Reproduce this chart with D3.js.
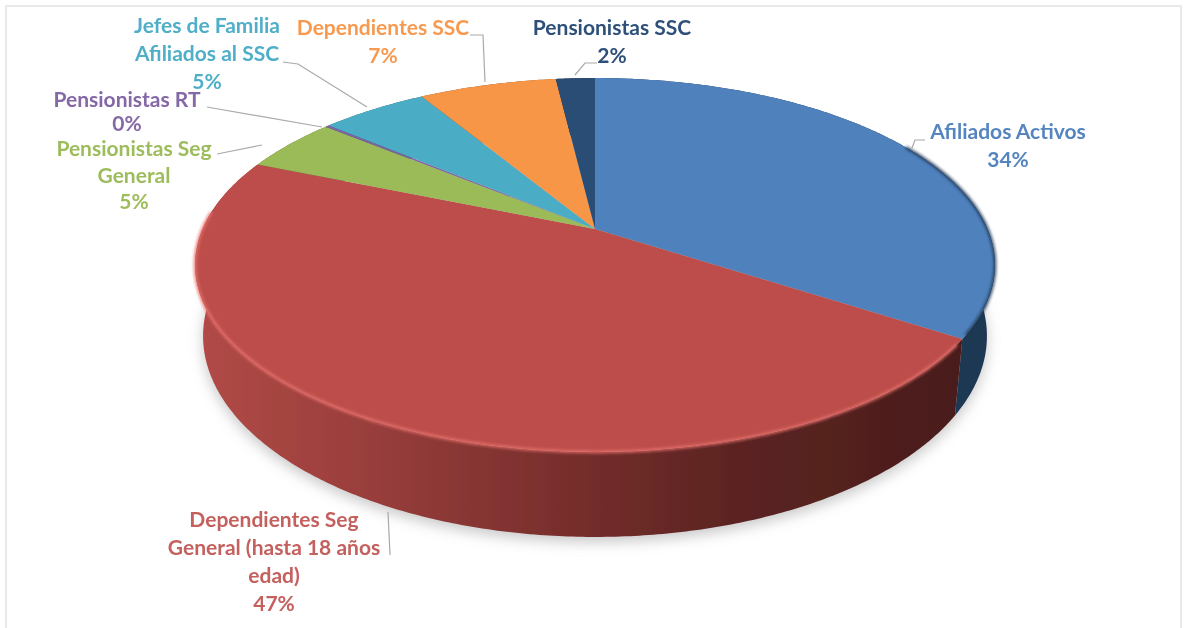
<!DOCTYPE html>
<html>
<head>
<meta charset="utf-8">
<script src="https://cdn.jsdelivr.net/npm/d3@7"></script>
<style>
	html, body { margin: 0; padding: 0; background: #fff; overflow: hidden; }
	svg { display: block; }
	text { font-family: Lato, "Noto Sans", sans-serif; font-weight: 700; font-size: 21px; text-anchor: middle; }
</style>
</head>
<body>
<div id="container"></div>
<script>
// valores
var categories = ["Afiliados Activos", "Dependientes Seg General (hasta 18 años edad)", "Pensionistas Seg General", "Pensionistas RT", "Jefes de Familia Afiliados al SSC", "Dependientes SSC", "Pensionistas SSC"];
var values = [34.2, 47.1, 4.7, 0.2, 5.2, 6.7, 1.9];
var percentLabels = ["34%", "47%", "5%", "0%", "5%", "7%", "2%"];

var labelLines = [
	["Afiliados Activos"],
	["Dependientes Seg", "General (hasta 18 años", "edad)"],
	["Pensionistas Seg", "General"],
	["Pensionistas RT"],
	["Jefes de Familia", "Afiliados al SSC"],
	["Dependientes SSC"],
	["Pensionistas SSC"]
];

var sliceColors = ["#4f81bd", "#bc4e4b", "#9bbb59", "#8064a2", "#4bacc6", "#f79646", "#2c4d75"];
var labelColors = ["#5585c0", "#c4605d", "#9dbd5c", "#8567a6", "#4fafc8", "#f79a50", "#2f5079"];

// posicion de cada etiqueta: centro x, linea base de la primera linea, interlineado
var labelPos = [
	{x: 1008, y: 139, dy: 28},
	{x: 274, y: 527, dy: 28},
	{x: 134, y: 156, dy: 26.5},
	{x: 127, y: 107, dy: 24},
	{x: 207, y: 33, dy: 28},
	{x: 383, y: 35, dy: 28},
	{x: 612, y: 35, dy: 28}
];

var leaders = [
	[[912, 148], [915, 140], [925, 140]],
	[[388, 512], [390, 555]],
	[[217, 154], [262, 145]],
	[[207, 107], [322, 127]],
	[[283, 62], [298, 64], [367, 107]],
	[[470, 35], [483, 35], [485, 82]],
	[[597, 63], [585, 63], [575, 75]]
];

var width = 1185, height = 628;
var cx = 595;
var k = 0.1925;
var topDisc = {a: 392.5, b: 180, y: 229};
var bottomDisc = {a: 384.6, b: 193.5, y: 297.3};

// circulo en perspectiva: el vertice no cae en el centro de la elipse
function project(disc, theta) {
	var u = Math.sin(theta), v = Math.cos(theta), w = 1 + k * v;
	return [cx + disc.a * u / w, disc.y - disc.b * v / w];
}

function arcPoints(disc, a0, a1) {
	var n = Math.max(2, Math.ceil((a1 - a0) / 0.01));
	return d3.range(n + 1).map(function(i) {
		return project(disc, a0 + (a1 - a0) * i / n);
	});
}

var line = d3.line();

var svg = d3.select("#container")
	.append("svg")
	.attr("width", width)
	.attr("height", height);

var defs = svg.append("defs");

function blur(id, dev) {
	defs.append("filter")
		.attr("id", id)
		.attr("x", "-20%").attr("y", "-20%")
		.attr("width", "140%").attr("height", "140%")
		.append("feGaussianBlur")
		.attr("stdDeviation", dev);
}
blur("soft", 0.7);
blur("rim", 1.6);
blur("shadow", 7);

var wallRed = defs.append("linearGradient")
	.attr("id", "wallRed")
	.attr("gradientUnits", "userSpaceOnUse")
	.attr("x1", 195).attr("x2", 960)
	.attr("y1", 0).attr("y2", 0);
[[0, "#b14a47"], [0.2, "#9c403d"], [0.45, "#7c302e"], [0.7, "#5c2422"], [1, "#4a1c1b"]].forEach(function(s) {
	wallRed.append("stop").attr("offset", s[0]).attr("stop-color", s[1]);
});

// marco
svg.append("rect")
	.attr("x", 6).attr("y", 6)
	.attr("width", 1175).attr("height", 640)
	.attr("fill", "none")
	.attr("stroke", "#e2e2e2")
	.attr("stroke-width", 1.5);

var chart = svg.append("g").attr("filter", "url(#soft)");

var slices = d3.pie().sort(null).value(function(d) { return d; })(values);

// sombra bajo el disco
chart.append("path")
	.attr("d", line(arcPoints(bottomDisc, 0, 2 * Math.PI)) + "Z")
	.attr("transform", "translate(0,5)")
	.attr("fill", "#9a9a9a")
	.attr("opacity", 0.55)
	.attr("filter", "url(#shadow)");

// paredes laterales
chart.selectAll(".wall")
	.data(slices)
	.enter()
	.append("path")
	.attr("class", "wall")
	.attr("d", function(d) {
		var t = arcPoints(topDisc, d.startAngle, d.endAngle);
		var b = arcPoints(bottomDisc, d.startAngle, d.endAngle).reverse();
		return line(t.concat(b)) + "Z";
	})
	.attr("fill", function(d, i) {
		if (i == 0) return "#1f3853";
		if (i == 1) return "url(#wallRed)";
		return d3.color(sliceColors[i]).darker(1.6);
	});

// cara superior
chart.selectAll(".slice")
	.data(slices)
	.enter()
	.append("path")
	.attr("class", "slice")
	.attr("d", function(d) {
		return line([[cx, topDisc.y]].concat(arcPoints(topDisc, d.startAngle, d.endAngle))) + "Z";
	})
	.attr("fill", function(d, i) { return sliceColors[i]; });

// bisel del borde
chart.append("path")
	.attr("d", line(arcPoints(topDisc, slices[1].startAngle + 0.03, slices[1].endAngle - 0.3)))
	.attr("fill", "none")
	.attr("stroke", "#e8706c")
	.attr("stroke-width", 2.5)
	.attr("filter", "url(#rim)");

chart.append("path")
	.attr("d", line(arcPoints(topDisc, 1.05, slices[0].endAngle - 0.02)))
	.attr("fill", "none")
	.attr("stroke", "#1f3450")
	.attr("stroke-width", 2.5)
	.attr("filter", "url(#rim)");

// lineas guia
chart.selectAll(".leader")
	.data(leaders)
	.enter()
	.append("path")
	.attr("class", "leader")
	.attr("d", function(d) { return line(d); })
	.attr("fill", "none")
	.attr("stroke", "#a9a9a9")
	.attr("stroke-width", 1.2);

// etiquetas
categories.forEach(function(c, i) {
	var pos = labelPos[i];
	var rows = labelLines[i].concat(percentLabels[i]);
	var text = chart.append("text")
		.attr("fill", labelColors[i]);
	rows.forEach(function(r, j) {
		text.append("tspan")
			.attr("x", pos.x)
			.attr("y", pos.y + j * pos.dy)
			.text(r);
	});
});
</script>
</body>
</html>
